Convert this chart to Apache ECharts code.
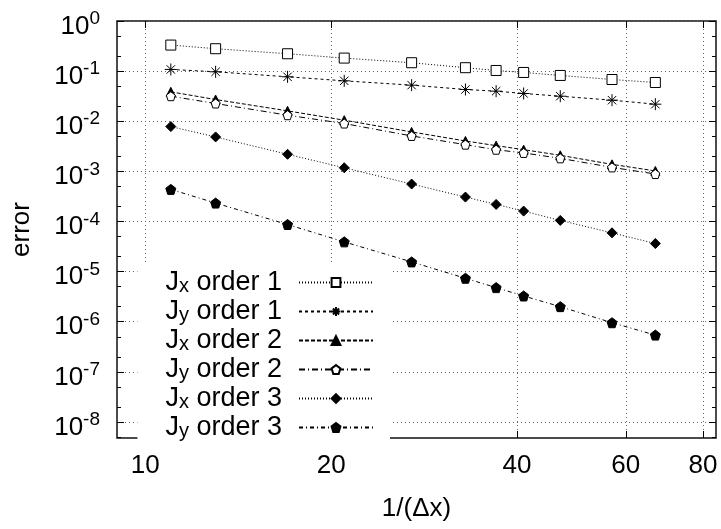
<!DOCTYPE html>
<html>
<head>
<meta charset="utf-8">
<script src="https://cdn.jsdelivr.net/npm/echarts@6/dist/echarts.min.js"></script>
<style>
html,body{margin:0;padding:0;background:#fff}
#main{width:721px;height:529px}
</style>
</head>
<body>
<div id="main"></div>
<script>
// data
var xs = [11, 13, 17, 21, 27, 33, 37, 41, 47, 57, 67]
var jx1 = [0.331, 0.28, 0.222, 0.182, 0.147, 0.117, 0.103, 0.094, 0.082, 0.068, 0.0593]
var jy1 = [0.108, 0.097, 0.077, 0.064, 0.0525, 0.043, 0.0398, 0.0358, 0.0316, 0.0263, 0.0219]
var jx2 = [0.0386, 0.0271, 0.0161, 0.0105, 0.00612, 0.00404, 0.00326, 0.00271, 0.00209, 0.00138, 0.00102]
var jy2 = [0.0316, 0.0226, 0.0132, 0.009, 0.00509, 0.00341, 0.0027, 0.00233, 0.00182, 0.0012, 0.000885]
var jx3 = [0.00782, 0.00486, 0.00219, 0.00118, 0.000558, 0.000307, 0.000219, 0.000161, 0.000105, 0.0000593, 0.0000363]
var jy3 = [0.000437, 0.000233, 0.000087, 0.0000392, 0.0000156, 0.00000736, 0.00000479, 0.00000326, 0.000002, 0.000000955, 0.000000541]

var names = ['Jx order 1', 'Jy order 1', 'Jx order 2', 'Jy order 2', 'Jx order 3', 'Jy order 3']
var subs = ['x', 'y', 'x', 'y', 'x', 'y']
var orders = ['1', '1', '2', '2', '3', '3']

var xTicks = [10, 20, 40, 60, 80]
var yTicks = [1e-8, 1e-7, 1e-6, 1e-5, 1e-4, 1e-3, 1e-2, 1e-1, 1]
var yMinor = [2e-9, 5e-9, 2e-8, 5e-8, 2e-7, 5e-7, 2e-6, 5e-6, 2e-5, 5e-5, 2e-4, 5e-4, 2e-3, 5e-3, 2e-2, 5e-2, 0.2, 0.5]

var font = 'Liberation Sans'
var xMin = 9, xMax = 84
var yMin = Math.pow(10, -8.32), yMax = 1

var asterisk = 'path://M0,-1L0,1M-1,0L1,0M-0.7,-0.7L0.7,0.7M-0.7,0.7L0.7,-0.7'
var pentagon = 'path://M0,-1L0.951,-0.309L0.588,0.809L-0.588,0.809L-0.951,-0.309Z'

var allData = [jx1, jy1, jx2, jy2, jx3, jy3]
var symbols = ['rect', asterisk, 'triangle', pentagon, 'diamond', pentagon]
var symSizes = [10, 12, 9, 9, 10, 10]
var fills = ['#fff', '#000', '#000', '#fff', '#000', '#000']
var dashes = [[1, 2], [3, 3], [4, 2], [6, 3, 1, 3], [1, 2], [4, 3, 1, 3]]

var chart = echarts.init(document.getElementById('main'))

var series = []
for (let i = 0; i < names.length; i++) {
	var pts = []
	for (let j = 0; j < xs.length; j++) {
		pts.push([xs[j], allData[i][j]])
	}
	series.push({
		name: names[i],
		type: 'line',
		data: pts,
		symbol: symbols[i],
		symbolSize: symSizes[i],
		showAllSymbol: true,
		itemStyle: { color: fills[i], borderColor: '#000', borderWidth: 1 },
		lineStyle: { color: '#000', width: 1, type: dashes[i] },
		emphasis: { disabled: true },
		z: 3
	})
}

function yLabel(v) {
	var e = Math.round(Math.log10(v))
	return '{b|10}{e|' + e + '}'
}

var dotted = { type: [1, 3], color: '#666', width: 1 }

// major ticks + labels, and extra axes only for mirrored / minor ticks
var xAxes = [{
	type: 'log', min: xMin, max: xMax, position: 'bottom',
	axisLine: { show: false },
	axisTick: { show: true, inside: true, length: 7, customValues: xTicks, lineStyle: { color: '#000' } },
	axisLabel: {
		customValues: xTicks, fontSize: 26, fontFamily: font, color: '#000', margin: 15,
		formatter: function(v) { return String(Math.round(v)) }
	},
	splitLine: { show: true, lineStyle: dotted },
	name: '1/(\u0394x)', nameLocation: 'middle', nameGap: 58,
	nameTextStyle: { fontSize: 26, fontFamily: font, color: '#000' }
}, {
	type: 'log', min: xMin, max: xMax, position: 'top',
	axisLine: { show: false },
	axisTick: { show: true, inside: true, length: 7, customValues: xTicks, lineStyle: { color: '#000' } },
	axisLabel: { show: false },
	splitLine: { show: false }
}]

var yAxes = [{
	type: 'log', min: yMin, max: yMax, position: 'left',
	axisLine: { show: false },
	axisTick: { show: true, inside: true, length: 7, customValues: yTicks, lineStyle: { color: '#000' } },
	axisLabel: {
		customValues: yTicks, formatter: yLabel, margin: 17, padding: [7, 0, 0, 0],
		rich: {
			b: { fontSize: 26, fontFamily: font, color: '#000', lineHeight: 30, verticalAlign: 'bottom' },
			e: { fontSize: 19, fontFamily: font, color: '#000', lineHeight: 10, verticalAlign: 'top' }
		}
	},
	splitLine: { show: true, lineStyle: dotted },
	name: 'error', nameLocation: 'middle', nameGap: 82,
	nameTextStyle: { fontSize: 26, fontFamily: font, color: '#000' }
}]
var ySides = [['left', 4, yMinor], ['right', 7, yTicks], ['right', 4, yMinor]]
for (let k = 0; k < ySides.length; k++) {
	yAxes.push({
		type: 'log', min: yMin, max: yMax, position: ySides[k][0],
		axisLine: { show: false },
		axisTick: { show: true, inside: true, length: ySides[k][1], customValues: ySides[k][2], lineStyle: { color: '#000' } },
		axisLabel: { show: false },
		splitLine: { show: false }
	})
}

chart.setOption({
	animation: false,
	backgroundColor: '#fff',
	grid: { left: 117, right: 5, top: 21, bottom: 91, show: true, borderColor: '#111', borderWidth: 1.5, backgroundColor: 'transparent' },
	xAxis: xAxes,
	yAxis: yAxes,
	legend: {
		orient: 'vertical', right: 331, top: 264, align: 'right',
		itemWidth: 74, itemHeight: 11, itemGap: 2, padding: [5, 16, 3, 28],
		backgroundColor: '#fff', selectedMode: false,
		data: names,
		formatter: function(name) {
			var i = names.indexOf(name)
			return '{a|J}{s|' + subs[i] + '}{a| order ' + orders[i] + '}{g|}'
		},
		textStyle: {
			color: '#000', fontFamily: font, fontSize: 27,
			rich: {
				a: { fontSize: 27, fontFamily: font, color: '#000', lineHeight: 26 },
				s: { fontSize: 20, fontFamily: font, color: '#000', lineHeight: 8, verticalAlign: 'bottom' },
				g: { width: 12 }
			}
		}
	},
	series: series
})
</script>
</body>
</html>
